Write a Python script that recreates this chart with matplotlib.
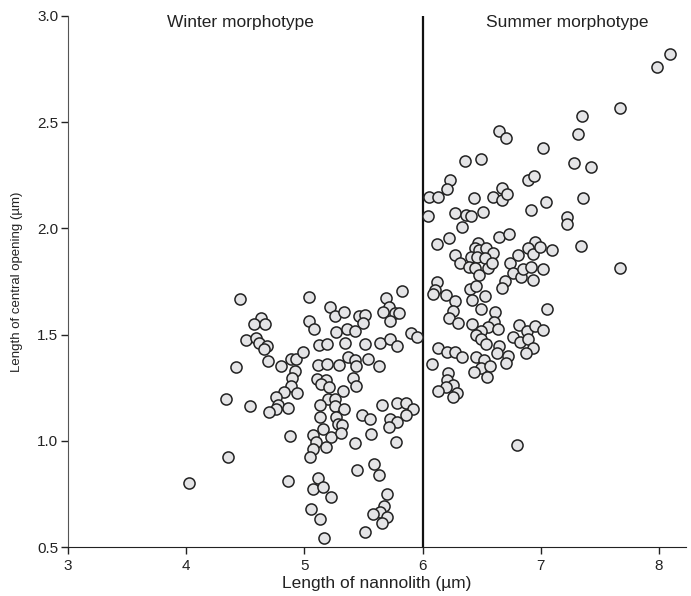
import matplotlib
matplotlib.use("Agg")
import matplotlib.pyplot as plt

plt.rcParams['font.family'] = ['Liberation Sans', 'DejaVu Sans']

# winter morphotype (length of nannolith, length of central opening), in um
winter_x = [4.455, 4.63, 4.576, 4.67, 4.51, 4.59, 4.616, 4.68, 4.656, 4.695, 4.424, 4.80, 4.884, 4.93,
            4.92, 4.895, 4.884, 4.827, 4.762, 4.94, 4.78, 4.76, 4.70, 4.864, 4.334, 4.54, 4.88, 4.35,
            4.02, 4.864,
            5.036, 5.217, 5.259, 5.335, 5.459, 5.51, 5.493, 5.69, 5.826, 5.713, 5.668, 5.764, 5.798,
            5.724, 5.04, 5.081, 5.265, 5.358, 5.428, 5.126, 5.188, 5.346, 5.51, 5.64, 5.724, 5.78,
            5.90, 5.95, 4.99, 5.118, 5.188, 5.295, 5.372, 5.425, 5.434, 5.54, 5.63, 5.11, 5.183,
            5.138, 5.21, 5.408, 5.436, 5.33, 5.20, 5.26, 5.13, 5.259, 5.335, 5.13, 5.27, 5.287,
            5.32, 5.16, 5.49, 5.555, 5.653, 5.78, 5.86, 5.916, 5.86, 5.724, 5.78, 5.72,
            5.075, 5.098, 5.222, 5.307, 5.183, 5.07, 5.047, 5.56, 5.428, 5.775, 5.118, 5.075,
            5.155, 5.222, 5.443, 5.59, 5.631, 5.696, 5.673, 5.64, 5.696, 5.578, 5.653, 5.513,
            5.06, 5.13, 5.166]
winter_y = [1.666, 1.577, 1.55, 1.55, 1.475, 1.483, 1.459, 1.446, 1.431, 1.377, 1.346, 1.352, 1.384, 1.387,
            1.33, 1.294, 1.258, 1.23, 1.208, 1.226, 1.17, 1.148, 1.136, 1.153, 1.197, 1.165, 1.024, 0.925,
            0.80, 0.81,
            1.678, 1.628, 1.588, 1.606, 1.589, 1.592, 1.556, 1.671, 1.705, 1.631, 1.608, 1.603, 1.603,
            1.565, 1.565, 1.526, 1.511, 1.526, 1.518, 1.451, 1.454, 1.462, 1.454, 1.462, 1.478, 1.446,
            1.506, 1.49, 1.417, 1.357, 1.36, 1.355, 1.396, 1.38, 1.352, 1.385, 1.352, 1.291, 1.286,
            1.266, 1.252, 1.296, 1.258, 1.234, 1.197, 1.195, 1.167, 1.164, 1.148, 1.111, 1.114, 1.079,
            1.074, 1.055, 1.121, 1.101, 1.167, 1.177, 1.18, 1.148, 1.121, 1.101, 1.09, 1.066,
            1.027, 0.996, 1.016, 1.035, 0.972, 0.96, 0.925, 1.03, 0.988, 0.993, 0.823, 0.773,
            0.784, 0.737, 0.862, 0.891, 0.839, 0.75, 0.693, 0.666, 0.643, 0.654, 0.614, 0.572,
            0.677, 0.63, 0.541]

# summer morphotype
summer_x = [6.649, 6.705, 7.02, 6.361, 6.494, 6.232, 6.209, 6.057, 6.133, 6.048, 6.274, 6.367, 6.407,
            6.514, 6.435, 6.331, 6.669, 6.598, 6.669, 6.712, 6.895, 6.943, 7.044, 6.917, 6.119, 6.226,
            6.649, 6.734, 6.95, 6.895,
            6.47, 6.44, 6.48, 6.536, 6.593, 6.274, 6.316, 6.407, 6.457, 6.53, 6.395, 6.44, 6.48, 6.556,
            6.584, 6.739, 6.804, 6.93, 6.993, 7.095, 6.767, 6.832, 6.852, 6.914, 6.937, 7.016, 6.697,
            6.669, 6.124, 6.105, 6.09, 6.198, 6.274, 6.40, 6.452, 6.528, 6.416, 6.492, 6.26, 6.226,
            6.302, 6.613, 6.605, 6.556, 6.64, 6.416, 6.492, 6.452, 6.494, 6.536, 6.818, 6.88, 6.951,
            7.016, 7.05, 6.761, 6.824, 6.895, 6.93, 6.875, 6.649, 6.632, 6.725, 6.705, 6.133, 6.209,
            6.274, 6.331, 6.077, 6.452, 6.522, 6.492, 6.57, 6.437, 6.547, 6.217, 6.203, 6.26, 6.195,
            6.133, 6.288, 6.26, 6.80,
            8.093, 7.98, 7.67, 7.351, 7.317, 7.28, 7.422, 7.354, 7.224, 7.219, 7.337, 7.67]
summer_y = [2.46, 2.424, 2.377, 2.319, 2.325, 2.228, 2.184, 2.146, 2.146, 2.058, 2.071, 2.063, 2.06,
            2.079, 2.142, 2.005, 2.192, 2.15, 2.134, 2.162, 2.228, 2.247, 2.126, 2.087, 1.927, 1.953,
            1.958, 1.972, 1.934, 1.91,
            1.932, 1.91, 1.90, 1.906, 1.883, 1.875, 1.836, 1.867, 1.864, 1.859, 1.82, 1.812, 1.78, 1.812,
            1.836, 1.839, 1.875, 1.879, 1.914, 1.898, 1.789, 1.77, 1.807, 1.82, 1.757, 1.807, 1.754,
            1.718, 1.746, 1.71, 1.69, 1.686, 1.66, 1.713, 1.729, 1.682, 1.663, 1.619, 1.613, 1.577,
            1.556, 1.608, 1.561, 1.537, 1.525, 1.55, 1.518, 1.498, 1.478, 1.456, 1.545, 1.518, 1.54,
            1.522, 1.619, 1.487, 1.467, 1.478, 1.436, 1.412, 1.446, 1.415, 1.399, 1.365, 1.436, 1.42,
            1.42, 1.393, 1.362, 1.393, 1.38, 1.341, 1.352, 1.323, 1.299, 1.318, 1.286, 1.263, 1.255,
            1.236, 1.227, 1.208, 0.98,
            2.82, 2.761, 2.568, 2.529, 2.443, 2.306, 2.288, 2.142, 2.055, 2.019, 1.918, 1.812]

x_ticks = [3, 4, 5, 6, 7, 8]
y_ticks = [0.5, 1.0, 1.5, 2.0, 2.5, 3.0]
boundary = 6

fig = plt.figure(figsize=(6.91, 5.96), dpi=100)
ax = fig.add_axes([0.0984, 0.0822, 0.8946, 0.891])

ax.scatter(winter_x + summer_x, winter_y + summer_y, s=64, facecolor='#e4e4e6',
           edgecolor='#222222', linewidth=1.1, zorder=3)
ax.plot([boundary, boundary], [0.5, 3.0], color='#111111', lw=1.6, zorder=2)

ax.set_xlim(3, 8.23)
ax.set_ylim(0.5, 3.0)
ax.set_xticks(x_ticks)
ax.set_yticks(y_ticks)
ax.set_yticklabels(['%.1f' % v for v in y_ticks])
ax.tick_params(axis='both', direction='out', length=5, width=1, labelsize=11, colors='#222222')
ax.tick_params(axis='y', pad=2)

for side in ['top', 'right']:
    ax.spines[side].set_visible(False)
ax.spines['left'].set_color('#555555')
ax.spines['bottom'].set_color('#222222')

ax.set_xlabel('Length of nannolith (\u00b5m)', fontsize=12.5, labelpad=2, color='#222222')
ax.set_ylabel('Length of central opening (\u00b5m)', fontsize=9.5, labelpad=10, color='#222222')

ax.text(4.455, 2.97, 'Winter morphotype', ha='center', va='center', fontsize=12.5, color='#222222')
ax.text(7.22, 2.97, 'Summer morphotype', ha='center', va='center', fontsize=12.5, color='#222222')

fig.savefig('out.png', dpi=100)
